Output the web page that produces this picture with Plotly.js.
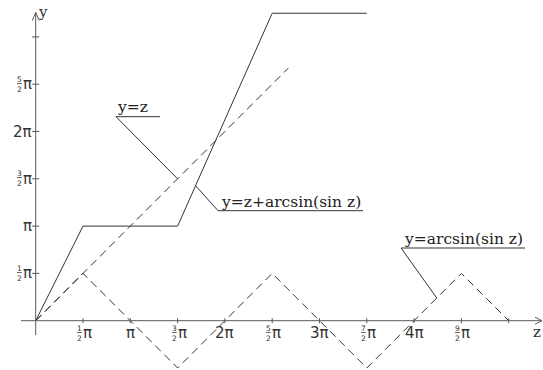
<!DOCTYPE html>
<html>
<head>
<meta charset="utf-8">
<script src="https://cdn.plot.ly/plotly-3.0.1.min.js"></script>
<style>
  html, body { margin: 0; padding: 0; background: #ffffff; }
  #plot { width: 543px; height: 370px; }
</style>
</head>
<body>
<div id="plot"></div>
<script>
// All values are expressed in multiples of π on both axes.

// y = z
const zIdentity = [0, 2.67];
const yIdentity = [0, 2.67];

// y = arcsin(sin z): triangle wave
const zArcsin = [0, 0.5, 1.5, 2.5, 3.5, 4.5, 5];
const yArcsin = [0, 0.5, -0.5, 0.5, -0.5, 0.5, 0];

// y = z + arcsin(sin z): staircase
const zSum = [0, 0.5, 1.5, 2.5, 3.5];
const ySum = [0, 1, 1, 3.25, 3.25];

// axis ticks and their labels ("n/dπ" is drawn as a stacked fraction)
const xTickVals = [0.5, 1, 1.5, 2, 2.5, 3, 3.5, 4, 4.5, 5];
const xTickLabels = ['1/2π', 'π', '3/2π', '2π', '5/2π', '3π', '7/2π', '4π', '9/2π', ''];
const yTickVals = [0.5, 1, 1.5, 2, 2.5, 3];
const yTickLabels = ['1/2π', 'π', '3/2π', '2π', '5/2π', ''];

// curve captions and the z where each leader touches its curve
const captionTexts = ['y=z', 'y=z+arcsin(sin z)', 'y=arcsin(sin z)'];
const captionTouchZ = [1.5, 1.69, 4.24];

// ---------------------------------------------------------------------
const W = 543, H = 370;
const xRange = [-0.3774, 5.3626];
const yRange = [-0.5211, 3.3901];
const px = (xRange[1] - xRange[0]) / W;          // data units per pixel (same on both axes)
const X = p => xRange[0] + p * px;               // page pixel -> z
const Y = p => yRange[1] - p * px;               // page pixel -> y

const curveColor = '#333333';
const axisColor = '#5a5a5a';
const dashPattern = '8px,5px';

function interp(zs, ys, z) {
  for (let i = 0; i < zs.length - 1; i++) {
    if (z >= zs[i] && z <= zs[i + 1]) {
      const t = (z - zs[i]) / (zs[i + 1] - zs[i]);
      return ys[i] + t * (ys[i + 1] - ys[i]);
    }
  }
  return ys[ys.length - 1];
}

const traces = [
  { x: zIdentity, y: yIdentity, mode: 'lines', line: { color: curveColor, width: 1, dash: dashPattern }, hoverinfo: 'skip' },
  { x: zArcsin, y: yArcsin, mode: 'lines', line: { color: curveColor, width: 1, dash: dashPattern }, hoverinfo: 'skip' },
  { x: zSum, y: ySum, mode: 'lines', line: { color: curveColor, width: 1 }, hoverinfo: 'skip' }
];

const shapes = [];
const annotations = [];
const seg = (x0, y0, x1, y1, color) => shapes.push({
  type: 'line', xref: 'x', yref: 'y', x0, y0, x1, y1,
  line: { color: color || axisColor, width: 1 }
});

// axes through the origin, with open arrowheads
const xEnd = X(542), yEnd = Y(12.5);
seg(X(21), 0, xEnd, 0);
seg(0, Y(335), 0, yEnd);
seg(xEnd - 7 * px, 3.5 * px, xEnd, 0);
seg(xEnd - 7 * px, -3.5 * px, xEnd, 0);
seg(-3.5 * px, yEnd - 8 * px, 0, yEnd);
seg(3.5 * px, yEnd - 8 * px, 0, yEnd);

// crossing tick marks
xTickVals.forEach(t => seg(t, -2.5 * px, t, 2.5 * px));
yTickVals.forEach(t => seg(-3.6 * px, t, 3.6 * px, t));

// tick labels
const tickFont = { family: 'DejaVu Sans', size: 15, color: '#333333' };
const fracFont = { family: 'DejaVu Sans', size: 7.5, color: '#333333' };

function parseLabel(s) {
  const m = s.match(/^(\d+)\/(\d+)(.*)$/);
  return m ? { num: m[1], den: m[2], rest: m[3] } : null;
}

xTickVals.forEach((t, i) => {
  const s = xTickLabels[i];
  if (!s) return;
  const f = parseLabel(s);
  if (f) {
    annotations.push({ x: t, y: 0, xref: 'x', yref: 'y', text: f.rest, showarrow: false,
      xanchor: 'left', yanchor: 'middle', xshift: -2, yshift: -12.5, font: tickFont });
    annotations.push({ x: t, y: 0, xref: 'x', yref: 'y', text: '<u>' + f.num + '</u><br>' + f.den,
      showarrow: false, xanchor: 'right', yanchor: 'middle', xshift: 1, yshift: -12.5, font: fracFont });
  } else {
    annotations.push({ x: t, y: 0, xref: 'x', yref: 'y', text: s, showarrow: false,
      xanchor: 'center', yanchor: 'middle', yshift: -12.5, font: tickFont });
  }
});

yTickVals.forEach((t, i) => {
  const s = yTickLabels[i];
  if (!s) return;
  const f = parseLabel(s);
  annotations.push({ x: 0, y: t, xref: 'x', yref: 'y', text: f ? f.rest : s, showarrow: false,
    xanchor: 'right', yanchor: 'middle', xshift: -1.5, font: tickFont });
  if (f) {
    annotations.push({ x: 0, y: t, xref: 'x', yref: 'y', text: '<u>' + f.num + '</u><br>' + f.den,
      showarrow: false, xanchor: 'right', yanchor: 'middle', xshift: -11.5, font: fracFont });
  }
});

// axis names
const nameFont = { family: 'DejaVu Serif', size: 15, color: '#333333' };
annotations.push({ x: X(36), y: Y(12), xref: 'x', yref: 'y', text: 'y', showarrow: false,
  xanchor: 'left', yanchor: 'middle', font: nameFont });
annotations.push({ x: X(531), y: Y(332), xref: 'x', yref: 'y', text: 'z', showarrow: false,
  xanchor: 'left', yanchor: 'middle', font: nameFont });

// curve captions: text, underline, and a leader from the underline to the curve
const captionFont = { family: 'DejaVu Serif', size: 15.5, color: '#222222' };
const captionLayout = [
  { tx: 115, ty: 107, ux0: 116, ux1: 160, uy: 116.7 },
  { tx: 219, ty: 202, ux0: 218, ux1: 363, uy: 210.7 },
  { tx: 402, ty: 239, ux0: 401, ux1: 525, uy: 248 }
];
const captionCurves = [[zIdentity, yIdentity], [zSum, ySum], [zArcsin, yArcsin]];

captionTexts.forEach((txt, i) => {
  const c = captionLayout[i];
  annotations.push({ x: X(c.tx), y: Y(c.ty), xref: 'x', yref: 'y', text: txt, showarrow: false,
    xanchor: 'left', yanchor: 'middle', font: captionFont });
  seg(X(c.ux0), Y(c.uy), X(c.ux1), Y(c.uy), curveColor);
  const zt = captionTouchZ[i];
  const yt = interp(captionCurves[i][0], captionCurves[i][1], zt);
  seg(X(c.ux0), Y(c.uy), zt, yt, curveColor);
});

const hiddenAxis = { showline: false, showgrid: false, zeroline: false, showticklabels: false,
  ticks: '', fixedrange: true };

const layout = {
  width: W, height: H,
  margin: { l: 0, r: 0, t: 0, b: 0, pad: 0 },
  paper_bgcolor: '#ffffff', plot_bgcolor: '#ffffff',
  showlegend: false,
  xaxis: Object.assign({ range: xRange }, hiddenAxis),
  yaxis: Object.assign({ range: yRange }, hiddenAxis),
  shapes: shapes,
  annotations: annotations
};

Plotly.newPlot('plot', traces, layout, { staticPlot: true, displayModeBar: false });
</script>
</body>
</html>
